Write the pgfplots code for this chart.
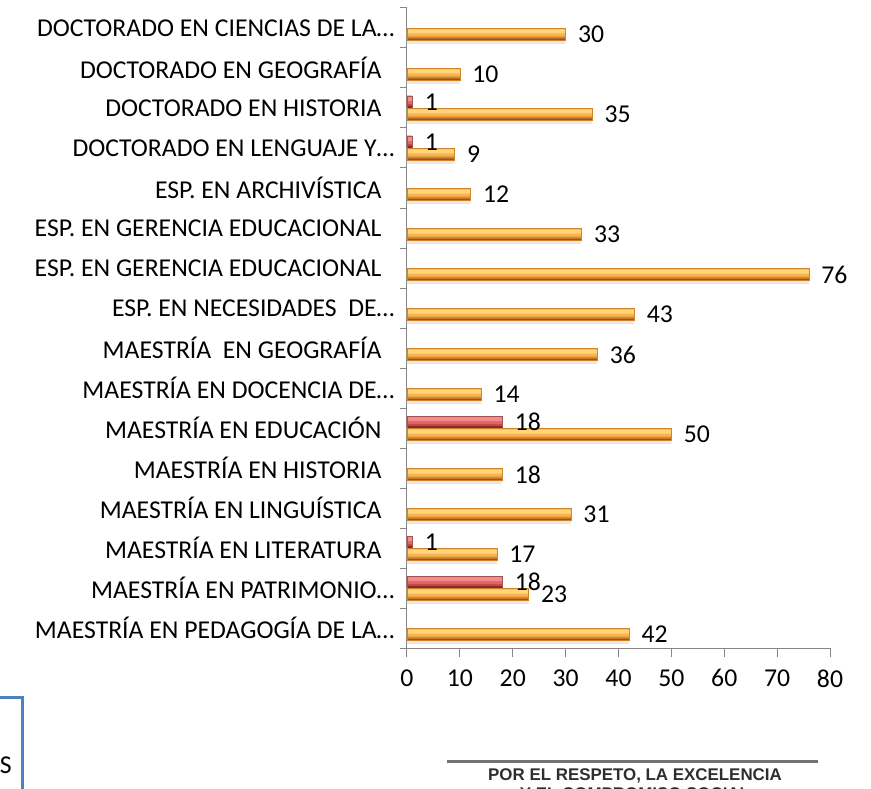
\documentclass[border=0pt]{standalone}
\usepackage{pgfplots}
\usepackage{pgfplotstable}
\pgfplotsset{compat=1.18}
\usepackage{fontspec}
\setmainfont{Carlito}
\newfontfamily\logofont{Liberation Sans}

\definecolor{axisgray}{RGB}{134,134,134}
\definecolor{boxblue}{RGB}{79,129,189}
\definecolor{otop}{RGB}{236,150,45}
\definecolor{olight}{RGB}{255,214,122}
\definecolor{omid}{RGB}{248,180,78}
\definecolor{odark}{RGB}{218,140,48}
\definecolor{obrown}{RGB}{150,88,30}
\definecolor{rlight}{RGB}{244,140,140}
\definecolor{rmid}{RGB}{226,102,102}
\definecolor{rdark}{RGB}{196,70,70}
\definecolor{rbrown}{RGB}{135,40,40}

\newcommand{\chartfont}{\fontsize{25.7}{30}\selectfont}

% category index 0 = bottom row
\pgfplotstableread{
val cat
18  1
1   2
18  5
1   12
1   13
}\redtab
\pgfplotstableread{
val cat
42  0
23  1
17  2
31  3
18  4
50  5
14  6
36  7
43  8
76  9
33  10
12  11
9   12
35  13
10  14
30  15
}\orangetab

\begin{document}
\begin{tikzpicture}
\path[use as bounding box] (0,0) rectangle (871pt,-789pt);
\begin{axis}[
  at={(407pt,-648pt)}, anchor=south west,
  scale only axis, width=423pt, height=640pt,
  xbar,
  xmin=0, xmax=80, ymin=-0.5, ymax=15.5,
  axis x line*=bottom, axis y line*=left,
  axis line style={draw=axisgray, line width=1pt, -},
  xtick={0,10,...,80},
  ytick={0,...,15},
  yticklabels={
    MAESTRÍA EN PEDAGOGÍA DE LA…,
    MAESTRÍA EN PATRIMONIO…,
    MAESTRÍA EN LITERATURA\kern13pt,
    MAESTRÍA EN LINGUÍSTICA\kern13pt,
    MAESTRÍA EN HISTORIA\kern13pt,
    MAESTRÍA EN EDUCACIÓN\kern13pt,
    MAESTRÍA EN DOCENCIA DE…,
    MAESTRÍA\ \ EN GEOGRAFÍA\kern13pt,
    ESP. EN NECESIDADES\ \ DE…,
    ESP. EN GERENCIA EDUCACIONAL\kern13pt,
    ESP. EN GERENCIA EDUCACIONAL\kern13pt,
    ESP. EN ARCHIVÍSTICA\kern13pt,
    DOCTORADO EN LENGUAJE Y…,
    DOCTORADO EN HISTORIA\kern13pt,
    DOCTORADO EN GEOGRAFÍA\kern13pt,
    DOCTORADO EN CIENCIAS DE LA…},
  minor ytick={-0.5,0.5,...,15.5},
  tick align=outside,
  major tick length=9pt, minor tick length=7pt,
  x tick style={draw=axisgray, line width=1pt},
  major y tick style={draw=none},
  minor y tick style={draw=axisgray, line width=1pt},
  ticklabel style={font=\chartfont, text=black},
  yticklabel style={xshift=0pt},
  xticklabel style={yshift=-9pt},
  /pgf/number format/assume math mode=true,
  every node near coord/.append style={font=\chartfont, text=black, anchor=west, xshift=9pt},
]
% soft shadows under the bars
\addplot[draw=none, fill=black!9, bar width=13pt, bar shift=3pt] table[x=val, y=cat] {\redtab};
\addplot[draw=none, fill=black!9, bar width=13pt, bar shift=-9.5pt] table[x=val, y=cat] {\orangetab};
% red series, layered for the bevel look
\addplot[draw=none, fill=rbrown, bar width=12pt, bar shift=6pt] table[x=val, y=cat] {\redtab};
\addplot[draw=none, fill=rdark, bar width=10pt, bar shift=7pt] table[x=val, y=cat] {\redtab};
\addplot[draw=none, fill=rmid, bar width=8pt, bar shift=8pt] table[x=val, y=cat] {\redtab};
\addplot[draw=none, fill=rlight, bar width=4pt, bar shift=9pt] table[x=val, y=cat] {\redtab};
\addplot[draw=rbrown!80, line width=0.5pt, fill=none, bar width=12pt, bar shift=6pt,
  nodes near coords] table[x=val, y=cat] {\redtab};
% orange series
\addplot[draw=none, fill=obrown, bar width=12pt, bar shift=-6.5pt] table[x=val, y=cat] {\orangetab};
\addplot[draw=none, fill=odark, bar width=10pt, bar shift=-5.5pt] table[x=val, y=cat] {\orangetab};
\addplot[draw=none, fill=omid, bar width=8pt, bar shift=-4.5pt] table[x=val, y=cat] {\orangetab};
\addplot[draw=none, fill=olight, bar width=4pt, bar shift=-3.5pt] table[x=val, y=cat] {\orangetab};
\addplot[draw=otop!70!obrown, line width=0.5pt, fill=none, bar width=12pt, bar shift=-6.5pt,
  nodes near coords] table[x=val, y=cat] {\orangetab};
\end{axis}
% box at bottom left
\draw[boxblue, line width=3pt] (-10pt,-697pt) -- (22pt,-697pt) -- (22pt,-800pt);
\node[anchor=base east, font=\chartfont, inner sep=0pt] at (12pt,-773pt) {S};
% logo text
\draw[black!55, line width=3pt] (447pt,-761pt) -- (818pt,-761pt);
\node[anchor=base, inner sep=0pt, text=black!82, font=\logofont\bfseries\fontsize{16.9}{19}\selectfont]
  at (635pt,-780pt) {POR EL RESPETO, LA EXCELENCIA};
\node[anchor=base, inner sep=0pt, text=black!82, font=\logofont\bfseries\fontsize{16.9}{19}\selectfont]
  at (635pt,-799pt) {Y EL COMPROMISO SOCIAL};
\end{tikzpicture}
\end{document}
